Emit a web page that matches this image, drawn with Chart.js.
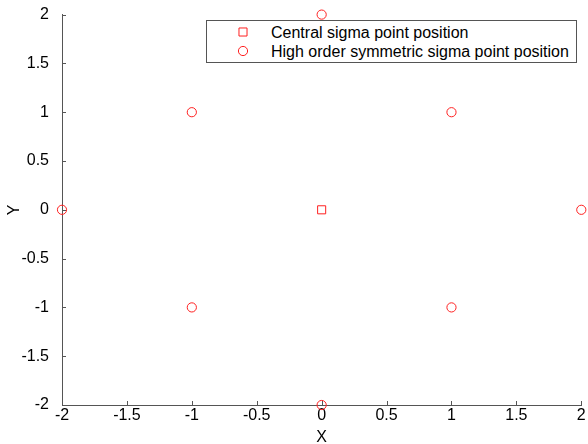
<!DOCTYPE html>
<html>
<head>
<meta charset="utf-8">
<script src="https://cdn.jsdelivr.net/npm/chart.js@4/dist/chart.umd.min.js"></script>
<style>
  html, body { margin: 0; padding: 0; background: #fff; }
  #wrap { position: relative; width: 588px; height: 444px; }
  #legend {
    position: absolute; left: 206px; top: 20px; width: 369px; height: 41px;
    border: 1px solid #555; background: #fff;
    font: 16px "Liberation Sans", Arial, sans-serif; color: #000;
  }
  #legend canvas { position: absolute; left: 29px; }
  #legend span { position: absolute; left: 64px; line-height: 18px; white-space: nowrap; }
</style>
</head>
<body>
<div id="wrap">
  <canvas id="chart" width="588" height="444"></canvas>
  <div id="legend"></div>
</div>
<script>
// sigma point positions
const centralX = [0];
const centralY = [0];
const symX = [0, -1, 1, -2, 2, -1, 1, 0];
const symY = [2, 1, 1, 0, 0, -1, -1, -2];
const tickValues = [-2, -1.5, -1, -0.5, 0, 0.5, 1, 1.5, 2];

const seriesNames = ['Central sigma point position', 'High order symmetric sigma point position'];
const markerColor = '#ff2020';
const fontFamily = '"Liberation Sans", Arial, sans-serif';

function toPoints(xs, ys) {
  return xs.map((x, i) => ({ x: x, y: ys[i] }));
}

// small tick marks pointing into the plot area
const innerTicks = {
  id: 'innerTicks',
  afterDraw(chart) {
    const ctx = chart.ctx;
    const area = chart.chartArea;
    const xs = chart.scales.x, ys = chart.scales.y;
    ctx.save();
    ctx.strokeStyle = '#555';
    ctx.lineWidth = 1;
    ctx.beginPath();
    tickValues.forEach(v => {
      const px = Math.round(xs.getPixelForValue(v)) + 0.5;
      ctx.moveTo(px, area.bottom);
      ctx.lineTo(px, area.bottom - 4);
      const py = Math.round(ys.getPixelForValue(v)) + 0.5;
      ctx.moveTo(area.left, py);
      ctx.lineTo(area.left + 4, py);
    });
    ctx.stroke();
    ctx.restore();
  }
};

const axisCommon = {
  type: 'linear',
  min: -2,
  max: 2,
  grid: { display: false },
  border: { display: true, color: '#555', width: 1 },
  ticks: {
    stepSize: 0.5,
    color: '#000',
    font: { family: fontFamily, size: 16 },
    callback: v => String(v)
  },
  title: {
    display: true,
    color: '#000',
    font: { family: fontFamily, size: 16, lineHeight: 1 }
  }
};

new Chart(document.getElementById('chart'), {
  type: 'scatter',
  data: {
    datasets: [
      {
        label: seriesNames[0],
        data: toPoints(centralX, centralY),
        pointStyle: 'rect',
        pointRadius: 5.7,
        borderColor: markerColor,
        backgroundColor: 'rgba(0,0,0,0)',
        borderWidth: 1,
        clip: false
      },
      {
        label: seriesNames[1],
        data: toPoints(symX, symY),
        pointStyle: 'circle',
        pointRadius: 4.6,
        borderColor: markerColor,
        backgroundColor: 'rgba(0,0,0,0)',
        borderWidth: 1,
        clip: false
      }
    ]
  },
  options: {
    responsive: false,
    animation: false,
    layout: { padding: { left: 0, top: 13, right: 4, bottom: 0 } },
    plugins: {
      legend: { display: false },
      tooltip: { enabled: false }
    },
    scales: {
      x: {
        ...axisCommon,
        position: 'bottom',
        ticks: { ...axisCommon.ticks, padding: -7, maxRotation: 0 },
        title: { ...axisCommon.title, text: 'X', padding: { top: -2, bottom: -2 } },
        afterFit(scale) { scale.height = 39; }
      },
      y: {
        ...axisCommon,
        position: 'left',
        ticks: { ...axisCommon.ticks, padding: 5 },
        title: { ...axisCommon.title, text: 'Y', padding: { top: 7, bottom: 0 } },
        afterFit(scale) { scale.width = 62; }
      }
    }
  },
  plugins: [innerTicks]
});

// legend box with marker samples
const legend = document.getElementById('legend');
const styles = ['rect', 'circle'];
seriesNames.forEach((name, i) => {
  const top = 2 + i * 19;
  const c = document.createElement('canvas');
  c.width = 14; c.height = 14;
  c.style.top = (top + 2) + 'px';
  const g = c.getContext('2d');
  g.strokeStyle = markerColor;
  g.fillStyle = '#fff';
  g.lineWidth = 1;
  Chart.helpers.drawPoint(g, { pointStyle: styles[i], radius: i === 0 ? 5.7 : 4.6, borderWidth: 1 }, 7, 7);
  legend.appendChild(c);
  const s = document.createElement('span');
  s.style.top = (top + 1) + 'px';
  s.textContent = name;
  legend.appendChild(s);
});
</script>
</body>
</html>
